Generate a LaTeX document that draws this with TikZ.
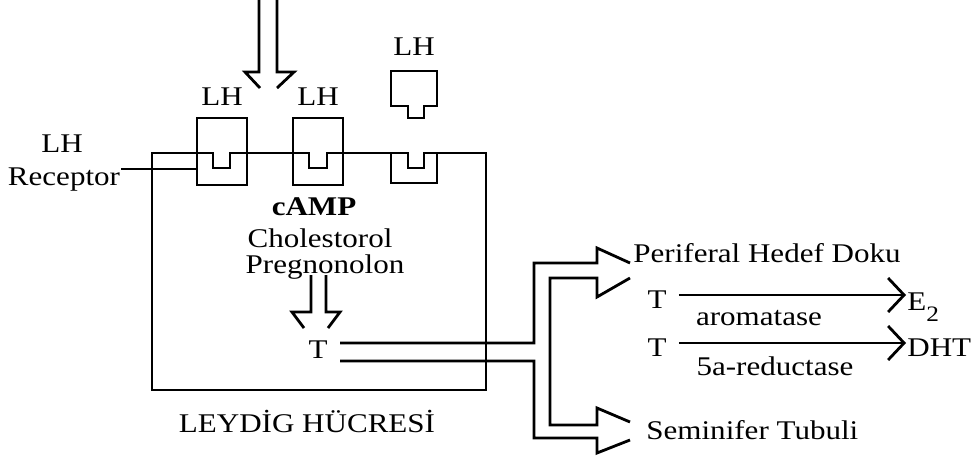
\documentclass[tikz,border=0pt]{standalone}
\usepackage{fontspec}
\setmainfont[FakeStretch=1.15]{Liberation Serif}
\usetikzlibrary{arrows.meta,positioning}

\begin{document}
\begin{tikzpicture}[
    x=1pt, y=-1pt,
    line width=2.8pt, line join=miter,
    lbl/.style={font=\fontsize{27}{30}\selectfont, inner sep=0pt},
    sublbl/.style={font=\fontsize{27}{29}\selectfont, inner sep=0pt},
    conv/.style={-{Straight Barb[length=16pt,width=34pt,line width=2.8pt]}, line width=2.8pt},
]
    \useasboundingbox (0,0) rectangle (977,459);

    % --- Cell with membrane and receptor notches ---
    \draw (152,390) -- (152,153) -- (213,153) |- (230,168) -- (230,153)
        -- (309,153) |- (327,168) -- (327,153)
        -- (408,153) |- (424,168) -- (424,153) -- (486,153) -- (486,390) -- cycle;
    \node[lbl] (leydig) at (307,421) {LEYDİG HÜCRESİ};

    % --- Receptors: two bound, one free ---
    \draw (197,118) rectangle (247,185);
    \draw (293,118) rectangle (343,185);
    \draw (391,153) -- (391,183) -- (437,183) -- (437,153);
    \draw (391,71) -- (437,71) -- (437,106) -- (424,106) -- (424,118)
        -- (408,118) -- (408,106) -- (391,106) -- cycle;

    \node[lbl] (lh1) at (222,97) {LH};
    \node[lbl] (lh2) at (318,97) {LH};
    \node[lbl] (lh3) at (414,47) {LH};
    \node[lbl, anchor=base] (lhr) at (62,152) {LH};
    \node[lbl, anchor=base] (recep) at (64,185) {Receptor};
    \coordinate (r1) at (197,169);
    \draw (recep.east |- r1) -- (r1);

    % --- Incoming LH arrow ---
    \draw (259,0) -- (259,72) -- (245,72) -- (260,88);
    \draw (277,0) -- (277,72) -- (294,72) -- (277,88);

    % --- Inside the cell ---
    \node[lbl, font=\fontsize{27}{30}\selectfont\bfseries] (camp) at (314,207) {cAMP};
    \node[lbl] (chol) at (320,238) {Cholestorol};
    \node[lbl] (preg) at (325,267) {Pregnonolon};
    \node[lbl] (tc) at (318,350) {T};
    \draw (311,275) -- (311,312) -- (292,312) -- (304,328);
    \draw (326,275) -- (326,312) -- (340,312) -- (328,328);

    % --- T leaves the cell ---
    \draw (340,343) -- (534,343) -- (534,263) -- (597,263) -- (597,248) -- (630,263);
    \draw (630,278) -- (597,297) -- (597,278) -- (550,278) -- (550,425)
        -- (597,425) -- (597,408) -- (630,422);
    \draw (630,440) -- (597,453) -- (597,438) -- (534,438) -- (534,361) -- (340,361);

    % --- Targets ---
    \node[lbl, anchor=west] (perif) at (632,253) {Periferal Hedef Doku};
    \node[lbl, anchor=west] (semin) at (645,430) {Seminifer Tubuli};

    \node[lbl] (ta) at (657,300) {T};
    \node[lbl] (tb) at (657,348) {T};
    \node[lbl, anchor=base west] (e2) at (906,310) {E\raisebox{-11pt}{\fontsize{22}{22}\selectfont 2}};
    \node[lbl, anchor=west] (dht) at (906,348) {DHT};
    \draw[conv] ([xshift=11pt,yshift=5pt]ta.east) -- ([yshift=5pt]ta.east -| e2.west);
    \draw[conv] ([xshift=11pt,yshift=5pt]tb.east) -- ([yshift=5pt]tb.east -| dht.west);
    \node[sublbl] (arom) at (759,318) {aromatase};
    \node[sublbl] (red) at (775,366) {5a-reductase};

\end{tikzpicture}
\end{document}
